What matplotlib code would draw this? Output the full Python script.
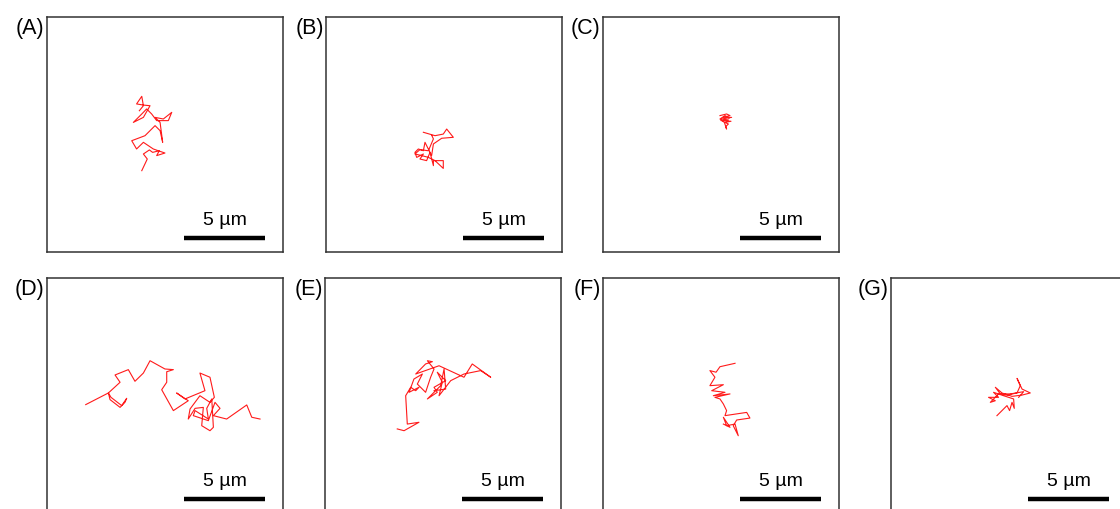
import numpy as np
import matplotlib.pyplot as plt

plt.rcParams['font.family'] = ['Liberation Sans', 'DejaVu Sans']

# particle tracks, positions in um inside each 14.6 x 14.5 um field
a_x = [5.85, 6.19, 5.95, 6.32, 6.52, 6.93, 6.77, 7.28, 6.87, 6.56, 5.95, 5.53, 5.23, 6.05, 6.67, 6.98,
       7.14, 6.98, 6.67, 7.18, 7.70, 7.49, 6.77, 6.46, 6.15, 5.85, 5.33, 5.95, 6.36, 5.95, 5.53, 5.85,
       5.95, 5.70]
a_y = [5.02, 5.74, 6.05, 6.30, 6.15, 6.25, 5.95, 6.11, 6.25, 6.36, 6.77, 6.36, 6.87, 7.18, 7.80, 7.49,
       6.77, 8.00, 8.31, 8.21, 8.62, 8.11, 8.11, 8.52, 8.83, 8.52, 8.00, 8.31, 9.03, 9.07, 9.14, 9.61,
       9.03, 8.72]

b_x = [6.01, 6.73, 7.24, 7.45, 7.86, 7.14, 6.63, 6.52, 6.11, 6.01, 5.70, 5.49, 5.60, 6.01, 5.80, 6.21,
       6.42, 6.63, 6.63, 7.24, 7.24, 6.73, 6.32, 5.91, 5.49, 5.80, 6.32, 6.63, 6.52]
b_y = [7.39, 7.18, 7.28, 7.59, 7.08, 7.02, 6.67, 5.95, 6.77, 6.25, 6.36, 6.15, 5.84, 6.05, 5.74, 5.64,
       6.15, 5.33, 5.64, 5.64, 5.16, 5.64, 5.84, 5.95, 6.05, 6.32, 6.25, 6.98, 7.22]

c_x = [7.22, 7.63, 7.84, 7.43, 7.94, 7.32, 7.74, 7.28, 7.90, 7.53, 7.74, 7.57, 7.63, 7.49, 7.22, 7.53, 7.78]
c_y = [8.42, 8.52, 8.42, 8.31, 8.31, 8.21, 8.15, 8.11, 8.07, 8.00, 7.90, 7.74, 7.59, 8.00, 8.21, 8.42, 8.27]

d_x = [2.39, 3.79, 3.89, 4.51, 4.81, 4.92, 4.61, 3.95, 3.79, 4.51, 4.20, 5.02, 5.43, 5.95, 6.36, 7.28,
       7.80, 7.39, 7.39, 7.08, 7.80, 8.72, 8.00, 8.52, 9.75, 9.44, 10.06, 10.33, 10.06, 9.44, 8.83, 8.72,
       9.14, 9.65, 9.55, 10.06, 10.27, 10.17, 9.86, 9.96, 9.14, 9.03, 9.96, 10.37, 10.68, 10.27, 11.09,
       12.33, 12.64, 13.15]
d_y = [6.69, 7.41, 7.00, 6.52, 6.83, 7.08, 6.63, 7.14, 7.41, 8.07, 8.52, 8.85, 8.13, 8.64, 9.40, 8.89,
       8.85, 8.72, 8.07, 7.61, 6.32, 6.93, 7.41, 7.04, 7.55, 8.64, 8.38, 7.14, 6.83, 7.24, 6.42, 5.80,
       6.46, 6.52, 5.39, 5.08, 5.29, 7.04, 6.46, 5.80, 6.32, 6.01, 5.70, 6.83, 6.46, 6.01, 5.80,
       6.67, 5.91, 5.80]

e_x = [4.46, 4.88, 5.80, 5.08, 4.98, 5.29, 5.60, 5.80, 5.19, 5.49, 6.01, 5.70, 6.21, 6.52, 6.73, 6.32,
       6.63, 6.21, 5.60, 7.04, 8.58, 9.09, 10.23, 9.61, 8.58, 7.76, 7.04, 7.24, 6.93, 7.45, 6.73, 6.93,
       6.32, 7.14, 7.35, 7.45, 6.73]
e_y = [5.19, 5.08, 5.60, 5.49, 7.24, 7.76, 7.55, 7.76, 7.45, 8.27, 8.58, 7.96, 7.45, 8.38, 8.89, 9.40,
       9.34, 9.20, 8.58, 9.09, 8.38, 9.20, 8.38, 8.79, 8.58, 8.17, 7.24, 8.07, 8.69, 8.17, 7.76, 7.45,
       7.04, 7.86, 8.89, 7.65, 7.55]

f_x = [8.15, 7.22, 6.98, 6.60, 6.91, 6.60, 7.43, 6.71, 7.53, 6.81, 7.84, 6.91, 7.22, 7.43, 7.63, 7.53,
       8.87, 9.07, 8.25, 8.04, 8.35, 8.15, 7.63, 7.43, 7.84, 7.43]
f_y = [9.24, 9.03, 8.69, 8.79, 8.38, 7.86, 7.92, 7.55, 7.45, 7.24, 7.35, 7.14, 7.04, 6.73, 6.32, 6.01,
       6.21, 5.86, 5.74, 5.39, 4.77, 5.49, 5.39, 5.91, 5.29, 5.49]

g_x = [6.54, 7.16, 7.32, 7.47, 7.61, 7.57, 6.95, 6.33, 6.64, 6.02, 6.44, 6.13, 6.64, 7.16, 7.78, 7.98,
       7.78, 8.09, 8.60, 8.09, 7.47, 6.85, 6.44, 6.75, 7.36, 8.19, 7.88]
g_y = [6.01, 6.63, 6.32, 6.83, 6.46, 7.04, 7.24, 7.45, 7.14, 7.14, 6.93, 6.83, 7.35, 7.28, 7.41, 7.86,
       8.31, 7.65, 7.41, 7.28, 7.20, 7.41, 7.76, 7.35, 7.35, 7.49, 7.14]

labels = ['(A)', '(B)', '(C)', '(D)', '(E)', '(F)', '(G)']
tracks = [(a_x, a_y), (b_x, b_y), (c_x, c_y), (d_x, d_y), (e_x, e_y), (f_x, f_y), (g_x, g_y)]
bar_um = 5

fig = plt.figure(figsize=(11.2, 5.1), dpi=100)

# box positions in pixels: left, top
boxes = [(47, 18), (326, 18), (603, 18), (47, 279), (325, 279), (603, 279), (891, 279)]
W, H = 236, 235
px_per_um = 16.2

for (left, top), lab, (tx, ty) in zip(boxes, labels, tracks):
    ax = fig.add_axes([left / 1120, 1 - (top + H) / 510, W / 1120, H / 510])
    ax.plot(tx, ty, color='#ff1a1a', lw=0.8)
    ax.set_xlim(0, W / px_per_um)
    ax.set_ylim(0, H / px_per_um)
    ax.set_xticks([])
    ax.set_yticks([])
    for s in ax.spines.values():
        s.set_linewidth(1.1)
        s.set_color('#333333')
    # scale bar
    x0 = 8.47
    ax.plot([x0, x0 + bar_um], [0.88, 0.88], color='black', lw=3.2, solid_capstyle='butt')
    ax.text(x0 + bar_um / 2, 1.98, '5 µm', ha='center', va='center', fontsize=14)
    ax.text(-0.01, 0.955, lab, transform=ax.transAxes, ha='right', va='center', fontsize=15.5)

plt.savefig('out.png', dpi=100)
